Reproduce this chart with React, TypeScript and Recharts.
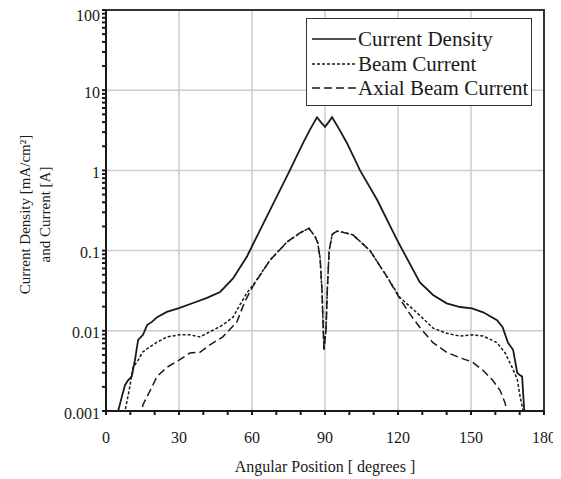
import React from 'react';
import { LineChart, Line, XAxis, YAxis, CartesianGrid, ReferenceArea, Legend } from 'recharts';

// values (angle in degrees, log-scale values)
const densityAngles = [4, 5, 6.5, 7.8, 9, 10.6, 12, 13.2, 15.2, 16.9, 19, 21, 25, 30, 35.8, 41.5, 46.9, 52.2, 58, 60.4, 67.4, 75.6, 81, 84, 86.7, 88.3, 90, 91.5, 92.9, 96, 99, 104.4, 111.4, 119.6, 129, 134.4, 140, 145.5, 150.4, 155, 160.7, 163, 165.2, 167.3, 169, 170, 171, 171.8, 172.5];
const densityValues = [0.0008, 0.001, 0.0015, 0.0021, 0.0024, 0.0027, 0.0045, 0.0077, 0.0089, 0.0118, 0.013, 0.0148, 0.0172, 0.0192, 0.0222, 0.0257, 0.0305, 0.045, 0.085, 0.12, 0.32, 1.01, 2.2, 3.3, 4.6, 4.0, 3.5, 4.0, 4.6, 3.2, 2.2, 1.0, 0.43, 0.136, 0.04, 0.028, 0.022, 0.0198, 0.019, 0.017, 0.0136, 0.0111, 0.0071, 0.0058, 0.003, 0.0028, 0.0027, 0.0011, 0.0007];

const beamAngles = [7, 7.8, 9.5, 11.1, 13.2, 15, 17.3, 21, 25, 30, 34.5, 38.6, 42.7, 48, 52.2, 55, 58, 60.4, 67.4, 74.4, 79.7, 83.4, 85.9, 87, 88, 88.8, 89.3, 89.6, 90, 90.4, 91, 91.7, 93, 95, 97, 101.5, 108.5, 115.5, 120.8, 125, 129, 134.4, 140, 145.5, 150.4, 155, 160.7, 164, 166.9, 169, 170.2, 171.4, 172];
const beamValues = [0.0008, 0.001, 0.0018, 0.0035, 0.0043, 0.0054, 0.0061, 0.0072, 0.0084, 0.0089, 0.0089, 0.0084, 0.0097, 0.0118, 0.0148, 0.021, 0.03, 0.037, 0.076, 0.128, 0.166, 0.19, 0.15, 0.125, 0.08, 0.03, 0.01, 0.0058, 0.008, 0.01, 0.035, 0.1, 0.16, 0.175, 0.17, 0.157, 0.1, 0.047, 0.026, 0.02, 0.0155, 0.0108, 0.0093, 0.0086, 0.0089, 0.0086, 0.0071, 0.0053, 0.0035, 0.0025, 0.0015, 0.001, 0.0008];

const axialAngles = [14, 15.2, 18.9, 21, 25, 30, 34.5, 38.6, 42.7, 48, 53.8, 57, 60.4, 67.4, 74.4, 79.7, 83.4, 85.9, 87, 88, 88.8, 89.3, 89.6, 90, 90.4, 91, 91.7, 93, 95, 97, 101.5, 108.5, 115.5, 120.8, 125, 129, 134.4, 140, 145.5, 150.4, 155, 159, 162, 164, 164.8, 165.5];
const axialValues = [0.0008, 0.0012, 0.002, 0.0027, 0.0035, 0.0043, 0.0053, 0.0054, 0.0067, 0.0084, 0.0129, 0.023, 0.036, 0.076, 0.128, 0.166, 0.19, 0.15, 0.125, 0.08, 0.03, 0.01, 0.0058, 0.008, 0.01, 0.035, 0.1, 0.16, 0.175, 0.17, 0.157, 0.1, 0.047, 0.025, 0.016, 0.011, 0.0071, 0.0054, 0.0046, 0.0041, 0.0032, 0.0024, 0.0018, 0.00126, 0.001, 0.0008];

const seriesNames = ['Current Density', 'Beam Current', 'Axial Beam Current'];
const seriesDashes = [undefined, '3 2', '8 4'];

const xTicks = [0, 10, 20, 30, 40, 50, 60, 70, 80, 90, 100, 110, 120, 130, 140, 150, 160, 170, 180];
const xMajorTicks = [0, 30, 60, 90, 120, 150, 180];
const yMajorTicks = [0.001, 0.01, 0.1, 1, 10, 100];
const yTickLabels = ['0.001', '0.01', '0.1', '1', '10', '100'];
const yMinorSteps = [1, 2, 3, 4, 5, 6, 7, 8, 9];

const yTicks = [
  ...yMajorTicks.slice(0, -1).flatMap((d) => yMinorSteps.map((m) => d * m)),
  100,
];

const toPoints = (angles: number[], values: number[]) =>
  angles.map((a, i) => ({ angle: a, value: values[i] }));

const densityData = toPoints(densityAngles, densityValues);
const beamData = toPoints(beamAngles, beamValues);
const axialData = toPoints(axialAngles, axialValues);

const FONT = 'Liberation Serif';
const INK = '#1a1a1a';

const formatY = (v: number) => {
  const i = yMajorTicks.findIndex((t) => Math.abs(t - v) / t < 1e-6);
  return i >= 0 ? yTickLabels[i] : '';
};

const formatX = (v: number) => (xMajorTicks.includes(v) ? String(v) : '');

// y tick labels sit a little below their tick, the top one more so
const YTick = ({ x, y, payload }: any) => {
  const label = formatY(payload.value);
  if (!label) return null;
  const shift = label === '100' ? 5 : 2;
  return (
    <text x={x} y={y + shift} textAnchor="end" dominantBaseline="central" fontFamily={FONT} fontSize={16} fill={INK}>
      {label}
    </text>
  );
};

const YTitle = ({ viewBox }: any) => {
  const cy = viewBox.y + viewBox.height / 2 + 4;
  const x = viewBox.x;
  return (
    <g fontFamily={FONT} fontSize={15} fill={INK}>
      <text transform={`translate(${x - 21}, ${cy}) rotate(-90)`} textAnchor="middle" dominantBaseline="central">
        Current Density [mA/cm²]
      </text>
      <text transform={`translate(${x - 1}, ${cy}) rotate(-90)`} textAnchor="middle" dominantBaseline="central">
        and Current [A]
      </text>
    </g>
  );
};

const XTitle = ({ viewBox }: any) => (
  <text
    x={viewBox.x + viewBox.width / 2}
    y={viewBox.y + 61}
    textAnchor="middle"
    fontFamily={FONT}
    fontSize={16}
    fill={INK}
  >
    Angular Position [ degrees ]
  </text>
);

const LegendBox = () => (
  <div
    style={{
      width: 226,
      height: 88,
      boxSizing: 'border-box',
      border: '1.5px solid #333',
      background: '#fff',
      paddingTop: 8,
      fontFamily: FONT,
      fontSize: 21,
      color: INK,
    }}
  >
    {seriesNames.map((name, i) => (
      <div key={name} style={{ display: 'flex', alignItems: 'center', height: 24.5, marginLeft: 5 }}>
        <svg width={44} height={4}>
          <line x1={0} y1={2} x2={44} y2={2} stroke={INK} strokeWidth={1.6} strokeDasharray={seriesDashes[i]} />
        </svg>
        <span style={{ marginLeft: 2, lineHeight: '24px', whiteSpace: 'nowrap' }}>{name}</span>
      </div>
    ))}
  </div>
);

export default function App() {
  return (
    <div style={{ fontFamily: FONT }}>
      <style>{'.recharts-surface { overflow: visible; }'}</style>
      <LineChart
        width={553}
        height={471}
        margin={{ top: 2, right: 17, bottom: 8, left: 38 }}
      >
        <CartesianGrid
          stroke="#cccccc"
          strokeWidth={1.5}
          horizontalValues={yMajorTicks}
          verticalValues={[30, 60, 90, 120, 150]}
        />
        <XAxis
          dataKey="angle"
          type="number"
          domain={[0, 180]}
          ticks={xTicks}
          tickFormatter={formatX}
          allowDataOverflow
          height={60}
          tickSize={4}
          tickMargin={17}
          interval={0}
          stroke={INK}
          strokeWidth={2}
          tick={{ fontFamily: FONT, fontSize: 16, fill: INK }}
          label={<XTitle />}
        />
        <YAxis
          dataKey="value"
          type="number"
          scale="log"
          domain={[0.001, 100]}
          ticks={yTicks}
          allowDataOverflow
          width={60}
          tickSize={4}
          tickMargin={2}
          interval={0}
          stroke={INK}
          strokeWidth={2}
          tick={<YTick />}
          label={<YTitle />}
        />
        <ReferenceArea x1={0} x2={180} y1={0.001} y2={100} fill="none" stroke="#333" strokeWidth={2} />
        <Line data={axialData} dataKey="value" type="linear" stroke={INK} strokeWidth={1.5} strokeDasharray="8 4" dot={false} isAnimationActive={false} name="Axial Beam Current" />
        <Line data={beamData} dataKey="value" type="linear" stroke={INK} strokeWidth={1.5} strokeDasharray="3 2" dot={false} isAnimationActive={false} name="Beam Current" />
        <Line data={densityData} dataKey="value" type="linear" stroke={INK} strokeWidth={1.8} dot={false} isAnimationActive={false} name="Current Density" />
        <Legend
          layout="horizontal"
          align="center"
          verticalAlign="middle"
          wrapperStyle={{ top: 10, left: 298, width: 226, height: 88 }}
          content={<LegendBox />}
        />
      </LineChart>
    </div>
  );
}
